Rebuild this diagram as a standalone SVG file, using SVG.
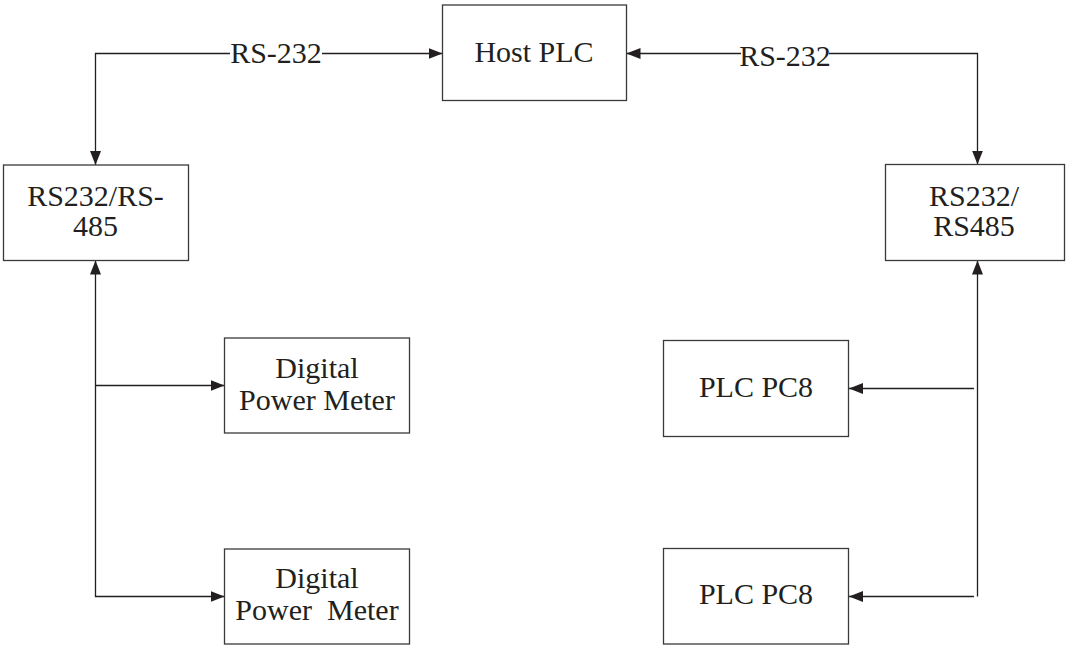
<svg xmlns="http://www.w3.org/2000/svg" width="1068" height="646" viewBox="0 0 1068 646">
<style>
.box{fill:#fff;stroke:#3a3a3a;stroke-width:1.3}
.lbl{font-family:"Liberation Serif","Times New Roman",serif;font-size:30px;fill:#231f20;text-anchor:middle}
.con{fill:none;stroke:#231f20;stroke-width:1.3}
.bg{fill:#fff}
</style>
<defs>
<marker id="ah" viewBox="0 0 14 11" refX="14" refY="5.5" markerWidth="14" markerHeight="11" markerUnits="userSpaceOnUse" orient="auto-start-reverse">
<path d="M0,0 L14,5.5 L0,11 z" fill="#231f20"/>
</marker>
</defs>
<rect width="1068" height="646" fill="#fff"/>
<g id="connectors">
<path class="con" d="M442.5,53.5 H95.5 V165" marker-start="url(#ah)" marker-end="url(#ah)"/>
<path class="con" d="M626.5,53.5 H977.5 V164.5" marker-start="url(#ah)" marker-end="url(#ah)"/>
<path class="con" d="M95.5,260.5 V596.5 H224.5" marker-start="url(#ah)" marker-end="url(#ah)"/>
<path class="con" d="M95.5,385.5 H224.5" marker-end="url(#ah)"/>
<path class="con" d="M977.5,260.5 V596.5" marker-start="url(#ah)"/>
<path class="con" d="M974,388.5 H849" marker-end="url(#ah)"/>
<path class="con" d="M974,596.5 H849" marker-end="url(#ah)"/>
<rect class="bg" x="230" y="40" width="92" height="26"/>
<text class="lbl" x="276" y="62.5">RS-232</text>
<rect class="bg" x="741" y="44" width="88" height="26"/>
<text class="lbl" x="785" y="66">RS-232</text>
</g>
<g id="host-plc">
<rect class="box" x="442.5" y="5" width="184" height="95.5"/>
<text class="lbl" x="534" y="62">Host PLC</text>
</g>
<g id="rs232-rs485-left">
<rect class="box" x="3.5" y="165" width="185" height="95.5"/>
<text class="lbl" x="95.5" y="206">RS232/RS-</text>
<text class="lbl" x="95.5" y="236">485</text>
</g>
<g id="rs232-rs485-right">
<rect class="box" x="885.5" y="164.5" width="179" height="96"/>
<text class="lbl" x="974" y="206">RS232/</text>
<text class="lbl" x="974" y="236">RS485</text>
</g>
<g id="digital-power-meter-1">
<rect class="box" x="224.5" y="338" width="185" height="95"/>
<text class="lbl" x="317" y="378">Digital</text>
<text class="lbl" x="317" y="410">Power Meter</text>
</g>
<g id="digital-power-meter-2">
<rect class="box" x="224.5" y="549" width="185" height="95"/>
<text class="lbl" x="317" y="588">Digital</text>
<text class="lbl" x="317" y="620" xml:space="preserve">Power  Meter</text>
</g>
<g id="plc-pc8-1">
<rect class="box" x="663.5" y="340.5" width="185" height="96"/>
<text class="lbl" x="756" y="397">PLC PC8</text>
</g>
<g id="plc-pc8-2">
<rect class="box" x="663.5" y="548.5" width="185" height="95.5"/>
<text class="lbl" x="756" y="604">PLC PC8</text>
</g>
</svg>
